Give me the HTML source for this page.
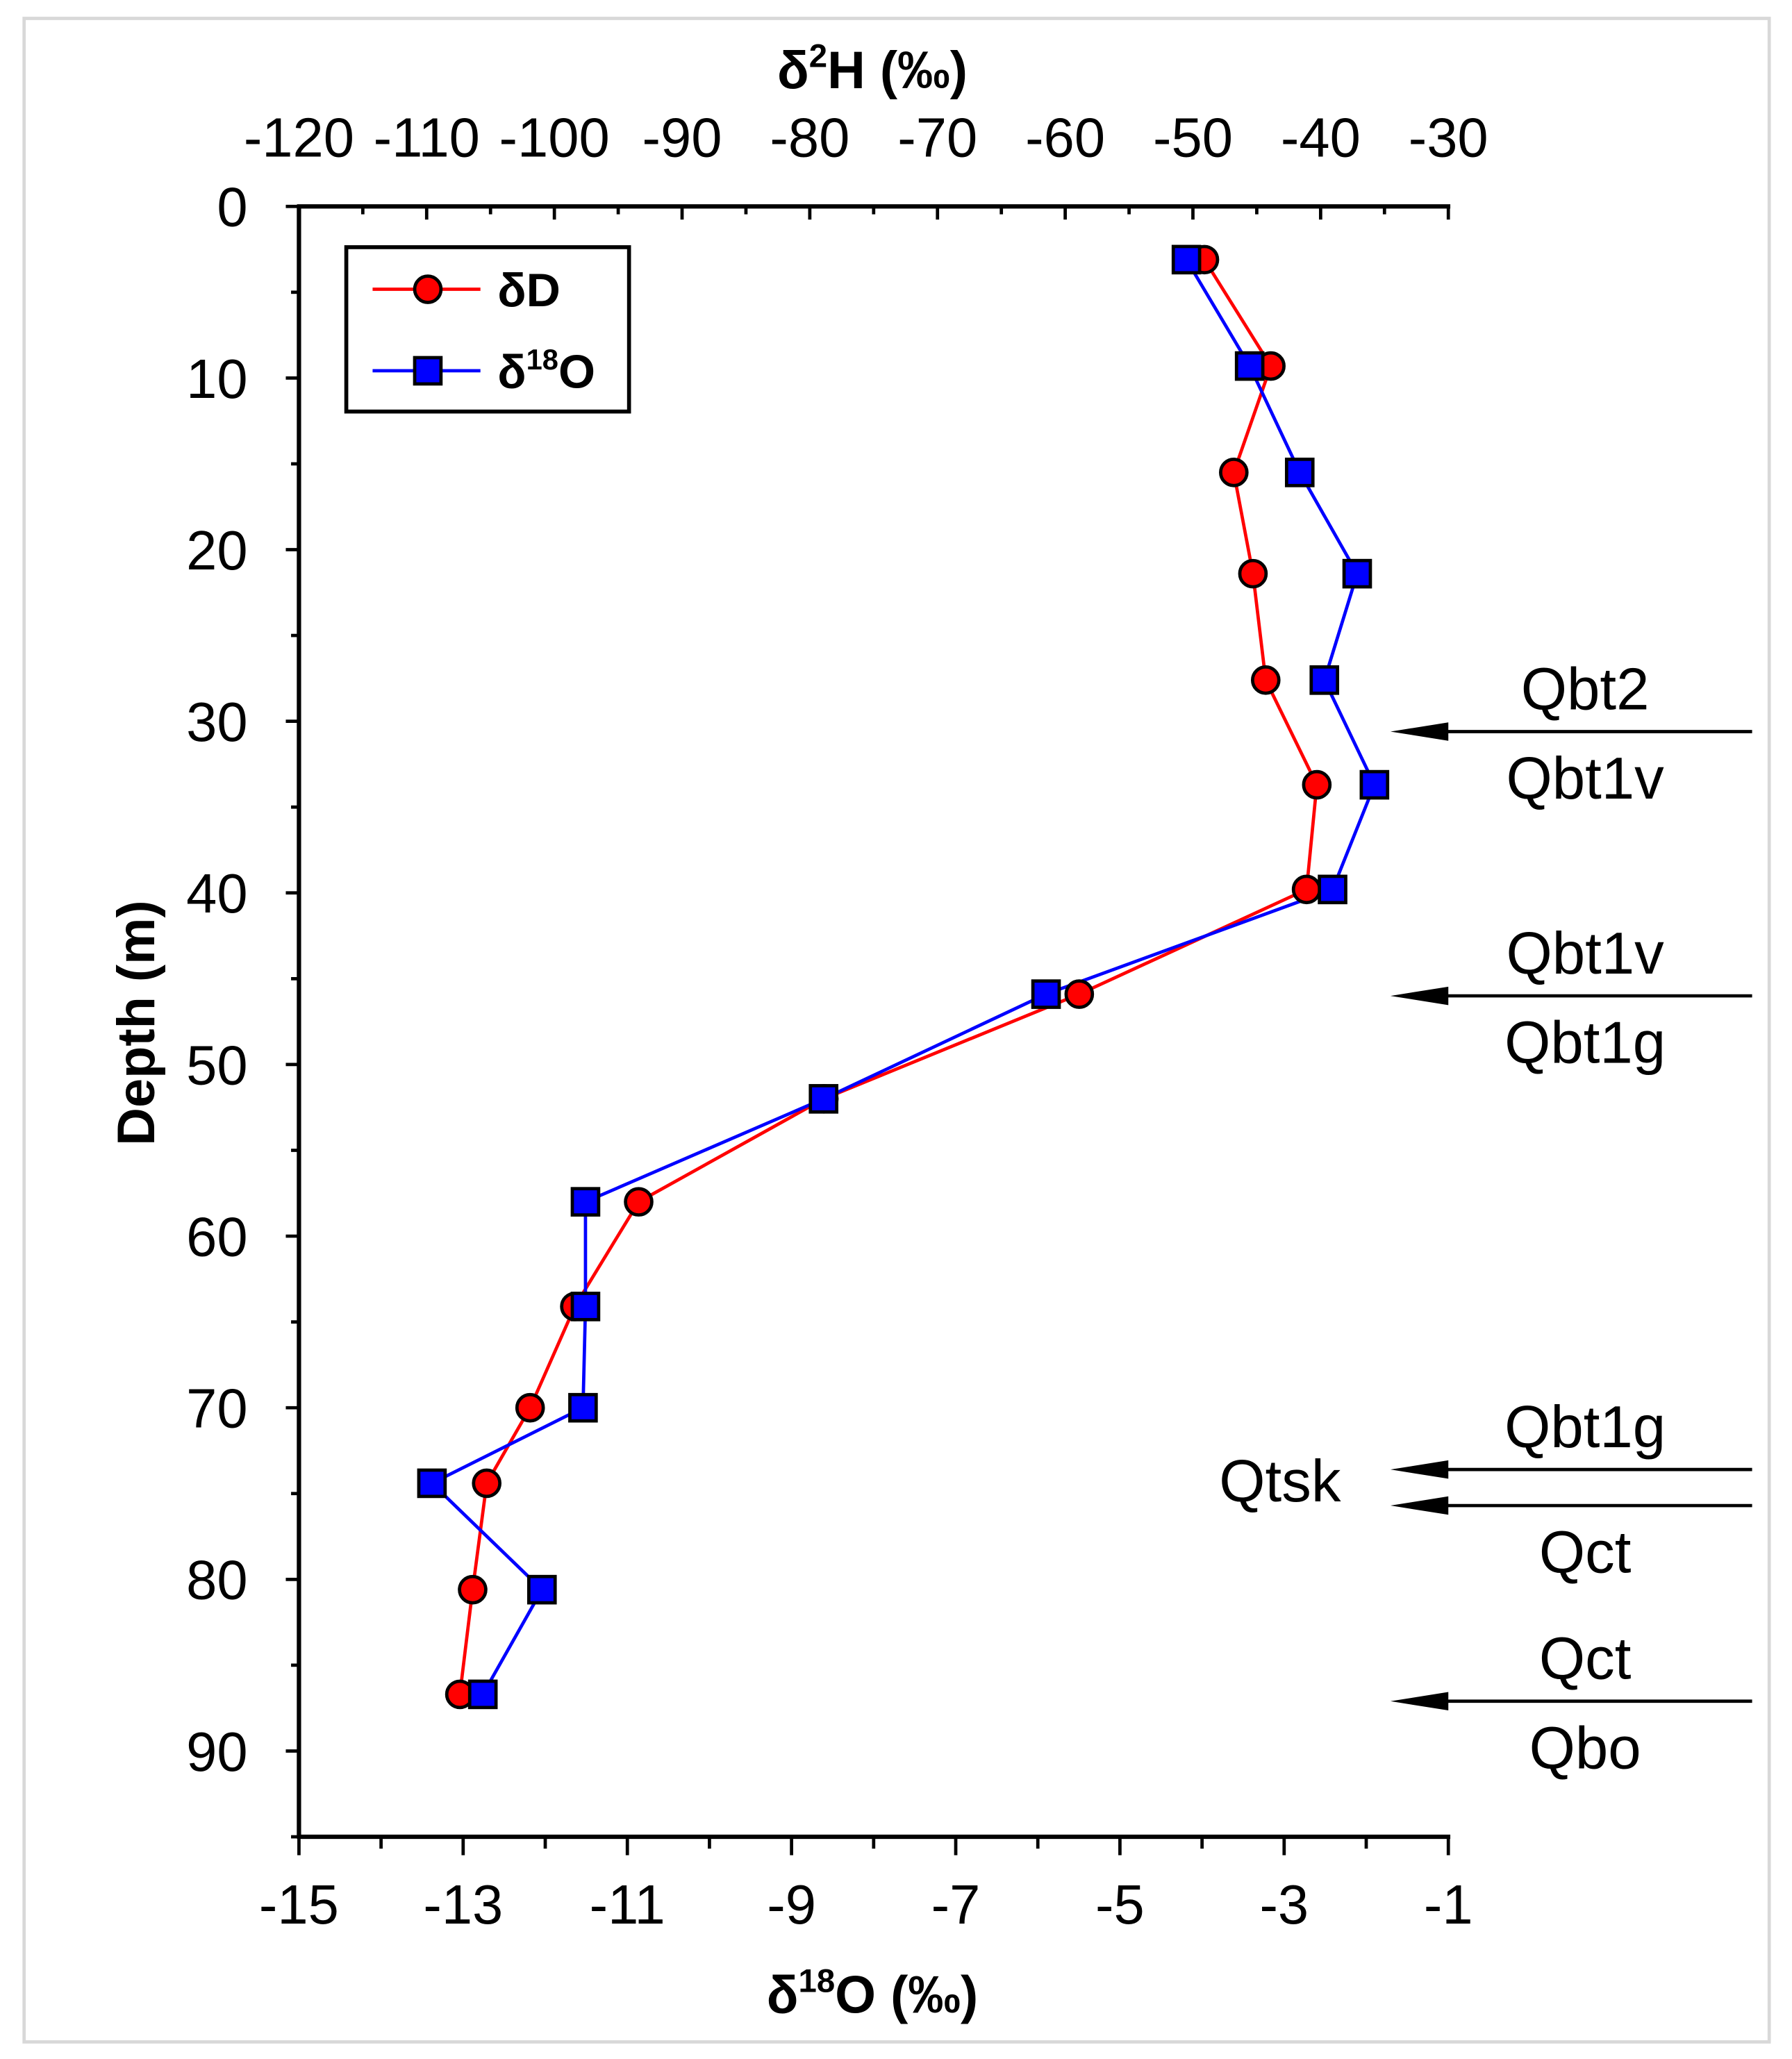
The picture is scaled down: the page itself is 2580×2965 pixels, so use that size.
<!DOCTYPE html>
<html><head><meta charset="utf-8"><style>
html,body{margin:0;padding:0;background:#fff;}
svg{display:block;font-family:"Liberation Sans",Arial,sans-serif;}
</style></head><body>
<svg id="chart" width="2580" height="2965" viewBox="0 0 1362 1566" xmlns="http://www.w3.org/2000/svg">
<rect x="18" y="14" width="1327" height="1539" fill="#fff" stroke="#d8d8d8" stroke-width="2.5"/>
<g id="axes"></g>
<g id="series"></g>
<g>
<rect x="263" y="188" width="215" height="125" fill="#fff" stroke="#000" stroke-width="3"/>
<line x1="283" y1="220" x2="365" y2="220" stroke="#f00" stroke-width="2.5"/>
<circle cx="325" cy="220" r="10" fill="#f00" stroke="#000" stroke-width="2.5"/>
<text x="378" y="233" font-size="36" font-weight="bold">δD</text>
<line x1="283" y1="282" x2="365" y2="282" stroke="#00f" stroke-width="2.5"/>
<rect x="315" y="272" width="20" height="20" fill="#00f" stroke="#000" stroke-width="2.5"/>
<text x="378" y="295" font-size="36" font-weight="bold">δ<tspan font-size="22" dy="-14">18</tspan><tspan dy="14">O</tspan></text>
</g>
<g id="annot"></g>
</svg>
<script>
const depthD=[3.1,9.3,15.5,21.4,27.6,33.7,39.8,45.9,52.0,58.0,64.1,70.0,74.4,80.6,86.7];
const valD=[-49.1,-43.9,-46.8,-45.3,-44.3,-40.3,-41.1,-58.9,-78.9,-93.4,-98.4,-101.9,-105.3,-106.4,-107.4];
const depthO=[3.1,9.3,15.5,21.4,27.6,33.7,39.8,45.9,52.0,58.0,64.1,70.0,74.4,80.6,86.7];
const valO=[-4.19,-3.42,-2.81,-2.11,-2.51,-1.90,-2.41,-5.90,-8.61,-11.51,-11.51,-11.54,-13.38,-12.04,-12.76];
const depthTicks=[0,10,20,30,40,50,60,70,80,90];
const o18Ticks=[-15,-13,-11,-9,-7,-5,-3,-1];
const h2Ticks=[-120,-110,-100,-90,-80,-70,-60,-50,-40,-30];
const contactLabels=[["Qbt2","Qbt1v"],["Qbt1v","Qbt1g"],["Qbt1g",""],["","Qct"],["Qct","Qbo"]];
const contactDepths=[30.6,46.0,73.6,75.7,87.1];

const NS="http://www.w3.org/2000/svg";
const L=227,R=1101,T=157,B=1397;
const yD=d=>T+(d-0)/95*(B-T);
const xO=v=>L+(v+15)/14*(R-L);
const xH=v=>L+(v+120)/90*(R-L);
function mk(p,tag,a){const e=document.createElementNS(NS,tag);for(const k in a)e.setAttribute(k,a[k]);p.appendChild(e);return e;}
const ax=document.getElementById('axes');
const SW=3.3;
let e;
e=mk(ax,'line',{x1:L,y1:T,x2:L,y2:B,stroke:'#000','stroke-width':SW});


e=mk(ax,'line',{x1:L-1.5,y1:B,x2:R+1.5,y2:B,stroke:'#000','stroke-width':SW});


e=mk(ax,'line',{x1:L-1.5,y1:T,x2:R+1.5,y2:T,stroke:'#000','stroke-width':SW});


for(let d=0;d<=95;d+=5){const maj=d%10===0;mk(ax,'line',{x1:L-(maj?10:6),y1:yD(d),x2:L,y2:yD(d),stroke:'#000','stroke-width':2.5});}
depthTicks.forEach(d=>{e=mk(ax,'text',{x:188,y:yD(d)+15,'font-size':42,'text-anchor':'end'});e.textContent=d;

});
for(let v=-15;v<=-1;v++){const maj=(v%2!==0);mk(ax,'line',{x1:xO(v),y1:B,x2:xO(v),y2:B+(maj?14:9),stroke:'#000','stroke-width':2.5});}
o18Ticks.forEach(v=>{e=mk(ax,'text',{x:xO(v),y:1463,'font-size':42,'text-anchor':'middle'});e.textContent=v;

});
for(let v=-120;v<=-30;v+=5){const maj=v%10===0;mk(ax,'line',{x1:xH(v),y1:T,x2:xH(v),y2:T+(maj?10:6),stroke:'#000','stroke-width':2.5});}
h2Ticks.forEach(v=>{
e=mk(ax,'text',{x:xH(v),y:119,'font-size':42,'text-anchor':'middle'});e.textContent=v;

});
e=mk(ax,'text',{x:663,y:67,'font-size':40,'font-weight':'bold','text-anchor':'middle'});
e.innerHTML='δ<tspan font-size="25" dy="-16">2</tspan><tspan dy="16">H (‰)</tspan>';


e=mk(ax,'text',{x:663,y:1531,'font-size':40,'font-weight':'bold','text-anchor':'middle'});
e.innerHTML='δ<tspan font-size="25" dy="-16">18</tspan><tspan dy="16">O (‰)</tspan>';


e=mk(ax,'text',{x:0,y:0,'font-size':40,'font-weight':'bold','text-anchor':'middle',transform:'translate(117,778) rotate(-90)'});e.textContent='Depth (m)';



const s=document.getElementById('series');
const pD=depthD.map((d,i)=>xH(valD[i])+','+yD(d)).join(' ');
const pO=depthO.map((d,i)=>xO(valO[i])+','+yD(d)).join(' ');
e=mk(s,'polyline',{points:pD,fill:'none',stroke:'#f00','stroke-width':2.5});


e=mk(s,'polyline',{points:pO,fill:'none',stroke:'#00f','stroke-width':2.5});


depthD.forEach((d,i)=>{e=mk(s,'circle',{cx:xH(valD[i]),cy:yD(d),r:10,fill:'#f00',stroke:'#000','stroke-width':2.5});

});
depthO.forEach((d,i)=>{e=mk(s,'rect',{x:xO(valO[i])-10,y:yD(d)-10,width:20,height:20,fill:'#00f',stroke:'#000','stroke-width':2.5});

});

const an=document.getElementById('annot');
contactDepths.forEach((d,i)=>{const y=yD(d);
e=mk(an,'line',{x1:1095,y1:y,x2:1332,y2:y,stroke:'#000','stroke-width':2.5});


mk(an,'polygon',{points:`1057,${y} 1101,${y-7} 1101,${y+7}`,fill:'#000'});
const [a,b]=contactLabels[i];
if(a){e=mk(an,'text',{x:1205,y:y-17,'font-size':45,'text-anchor':'middle'});e.textContent=a;

}
if(b){e=mk(an,'text',{x:1205,y:y+51,'font-size':45,'text-anchor':'middle'});e.textContent=b;

}
});
e=mk(an,'text',{x:973,y:1142,'font-size':45,'text-anchor':'middle'});e.textContent='Qtsk';


</script>
</body></html>
